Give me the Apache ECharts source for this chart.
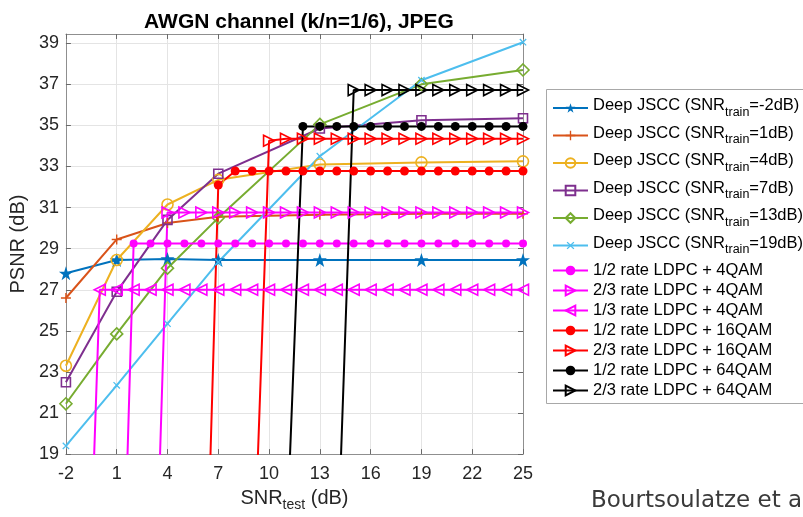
<!DOCTYPE html>
<html><head><meta charset="utf-8">
<script src="https://cdn.jsdelivr.net/npm/echarts@6/dist/echarts.min.js"></script>
<style>html,body{margin:0;padding:0;background:#fff}#c{width:803px;height:517px}</style>
</head><body><div id="c"></div>
<script>
// ---------- data ----------
const snrTicks  = [-2, 1, 4, 7, 10, 13, 16, 19, 22, 25];
const psnrTicks = [19, 21, 23, 25, 27, 29, 31, 33, 35, 37, 39];

const snrJscc = [-2, 1, 4, 7, 13, 19, 25];
const jsccTrainM2 = [27.8, 28.45, 28.5, 28.45, 28.45, 28.45, 28.45];
const jsccTrain1  = [26.6, 29.45, 30.25, 30.55, 30.65, 30.7, 30.7];
const jsccTrain4  = [23.3, 28.45, 31.15, 32.35, 33.1, 33.2, 33.25];
const jsccTrain7  = [22.5, 26.9, 30.4, 32.65, 34.85, 35.25, 35.35];
const jsccTrain13 = [21.45, 24.85, 28.05, 30.5, 35.05, 37.0, 37.7];
const jsccTrain19 = [19.4, 22.35, 25.35, 28.35, 33.5, 37.2, 39.05];

const snrGrid = [-2, -1, 0, 1, 2, 3, 4, 5, 6, 7, 8, 9, 10, 11, 12, 13, 14, 15, 16, 17, 18, 19, 20, 21, 22, 23, 24, 25];
const ldpcHalf4qam  = [null, null, null, 0.8, 29.25, 29.25, 29.25, 29.25, 29.25, 29.25, 29.25, 29.25, 29.25, 29.25, 29.25, 29.25, 29.25, 29.25, 29.25, 29.25, 29.25, 29.25, 29.25, 29.25, 29.25, 29.25, 29.25, 29.25];
const ldpcTwo3_4qam = [null, null, null, null, null, 4.0, 30.76, 30.76, 30.76, 30.76, 30.76, 30.76, 30.76, 30.76, 30.76, 30.76, 30.76, 30.76, 30.76, 30.76, 30.76, 30.76, 30.76, 30.76, 30.76, 30.76, 30.76, 30.76];
const ldpcOne3_4qam = [null, 2.8, 27.0, 27.0, 27.0, 27.0, 27.0, 27.0, 27.0, 27.0, 27.0, 27.0, 27.0, 27.0, 27.0, 27.0, 27.0, 27.0, 27.0, 27.0, 27.0, 27.0, 27.0, 27.0, 27.0, 27.0, 27.0, 27.0];
const ldpcHalf16qam = [null, null, null, null, null, null, null, null, 3.6, 32.1, 32.78, 32.78, 32.78, 32.78, 32.78, 32.78, 32.78, 32.78, 32.78, 32.78, 32.78, 32.78, 32.78, 32.78, 32.78, 32.78, 32.78, 32.78];
const ldpcTwo3_16qam = [null, null, null, null, null, null, null, null, null, null, null, 11.0, 34.25, 34.35, 34.35, 34.35, 34.35, 34.35, 34.35, 34.35, 34.35, 34.35, 34.35, 34.35, 34.35, 34.35, 34.35, 34.35];
const ldpcHalf64qam = [null, null, null, null, null, null, null, null, null, null, null, null, null, 14.0, 34.95, 34.95, 34.95, 34.95, 34.95, 34.95, 34.95, 34.95, 34.95, 34.95, 34.95, 34.95, 34.95, 34.95];
const ldpcTwo3_64qam = [null, null, null, null, null, null, null, null, null, null, null, null, null, null, null, null, 13.0, 36.72, 36.72, 36.72, 36.72, 36.72, 36.72, 36.72, 36.72, 36.72, 36.72, 36.72];

const jsccNames = [
  'Deep JSCC (SNR_train=-2dB)', 'Deep JSCC (SNR_train=1dB)', 'Deep JSCC (SNR_train=4dB)',
  'Deep JSCC (SNR_train=7dB)', 'Deep JSCC (SNR_train=13dB)', 'Deep JSCC (SNR_train=19dB)'
];
const ldpcNames = [
  '1/2 rate LDPC + 4QAM', '2/3 rate LDPC + 4QAM', '1/3 rate LDPC + 4QAM',
  '1/2 rate LDPC + 16QAM', '2/3 rate LDPC + 16QAM', '1/2 rate LDPC + 64QAM', '2/3 rate LDPC + 64QAM'
];

// ---------- styling ----------
const FONT = '"Liberation Sans", Arial, Helvetica, sans-serif';
const STAR = 'path://M50,0L61.8,35.1L98.9,35.1L68.8,56.8L80.3,91.9L50,70.2L19.7,91.9L31.2,56.8L1.1,35.1L38.2,35.1Z';
const PLUS = 'path://M43,0H57V43H100V57H57V100H43V57H0V43H43Z';
const TRI_R = 'path://M0,0L100,50L0,100Z';
const TRI_L = 'path://M100,0L0,50L100,100Z';
const CLEAR = 'rgba(255,255,255,0)';

function pairs(xs, ys) { return xs.map((x, i) => [x, ys[i]]); }

function line(name, data, color, symbol, size, open, rotate) {
  return {
    type: 'line', name: name, data: data,
    symbol: symbol, symbolSize: size, symbolRotate: rotate || 0,
    showAllSymbol: true, clip: true, connectNulls: false,
    lineStyle: { color: color, width: 2 },
    itemStyle: open ? { color: CLEAR, borderColor: color, borderWidth: 1.6 }
                    : { color: color, borderWidth: 0 },
    emphasis: { disabled: true },
    z: 2
  };
}

const series = [
  line(jsccNames[0], pairs(snrJscc, jsccTrainM2), '#0072BD', STAR, 14, false),
  line(jsccNames[1], pairs(snrJscc, jsccTrain1), '#D95319', PLUS, 10, false),
  line(jsccNames[2], pairs(snrJscc, jsccTrain4), '#EDB120', 'circle', 11, true),
  line(jsccNames[3], pairs(snrJscc, jsccTrain7), '#7E2F8E', 'rect', 9, true),
  line(jsccNames[4], pairs(snrJscc, jsccTrain13), '#77AC30', 'diamond', 12, true),
  line(jsccNames[5], pairs(snrJscc, jsccTrain19), '#4DBEEE', PLUS, 9, false, 45),
  line(ldpcNames[0], pairs(snrGrid, ldpcHalf4qam), '#FF00FF', 'circle', 8, false),
  line(ldpcNames[1], pairs(snrGrid, ldpcTwo3_4qam), '#FF00FF', TRI_R, 11, true),
  line(ldpcNames[2], pairs(snrGrid, ldpcOne3_4qam), '#FF00FF', TRI_L, 11, true),
  line(ldpcNames[3], pairs(snrGrid, ldpcHalf16qam), '#FF0000', 'circle', 9, false),
  line(ldpcNames[4], pairs(snrGrid, ldpcTwo3_16qam), '#FF0000', TRI_R, 11, true),
  line(ldpcNames[5], pairs(snrGrid, ldpcHalf64qam), '#000000', 'circle', 9, false),
  line(ldpcNames[6], pairs(snrGrid, ldpcTwo3_64qam), '#000000', TRI_R, 11, true)
];

const FRAME = '#8f8f8f';
const TICK = '#6a6a6a';
const GRIDC = '#e4e4e4';
const LABC = '#262626';

const option = {
  animation: false,
  backgroundColor: '#ffffff',
  title: {
    text: 'AWGN channel (k/n=1/6), JPEG',
    left: 294, top: 7, textAlign: 'center',
    textStyle: { fontFamily: FONT, fontSize: 21, fontWeight: 'bold', color: '#000' }
  },
  grid: { left: 64, top: 34, right: 280, bottom: 58, containLabel: false, show: false },
  xAxis: [
    {
      type: 'value', min: -2, max: 25, position: 'bottom',
      axisLine: { show: true, onZero: false, lineStyle: { color: FRAME, width: 1 } },
      axisTick: { show: true, inside: true, length: 5, customValues: snrTicks, lineStyle: { color: TICK } },
      axisLabel: { customValues: snrTicks, color: LABC, fontSize: 18, fontFamily: FONT, margin: 11 },
      splitLine: { show: true, lineStyle: { color: GRIDC, width: 1 } },
      name: '{n|SNR}{s|test}{n| (dB)}', nameLocation: 'middle', nameGap: 32,
      nameTextStyle: {
        fontFamily: FONT, color: LABC,
        rich: {
          n: { fontSize: 20, fontFamily: FONT, color: LABC, lineHeight: 24, verticalAlign: 'top' },
          s: { fontSize: 14, fontFamily: FONT, color: LABC, lineHeight: 10, verticalAlign: 'bottom' }
        }
      }
    },
    {
      type: 'value', min: -2, max: 25, position: 'top',
      axisLine: { show: true, onZero: false, lineStyle: { color: FRAME, width: 1 } },
      axisTick: { show: true, inside: true, length: 5, customValues: snrTicks, lineStyle: { color: TICK } },
      axisLabel: { show: false },
      splitLine: { show: false }
    }
  ],
  yAxis: [
    {
      type: 'value', min: 19, max: 39.45, position: 'left',
      axisLine: { show: true, onZero: false, lineStyle: { color: FRAME, width: 1 } },
      axisTick: { show: true, inside: true, length: 5, customValues: psnrTicks, lineStyle: { color: TICK } },
      axisLabel: { customValues: psnrTicks, color: LABC, fontSize: 18, fontFamily: FONT, margin: 7 },
      splitLine: { show: true, lineStyle: { color: GRIDC, width: 1 } },
      name: 'PSNR (dB)', nameLocation: 'middle', nameGap: 28,
      nameTextStyle: { fontFamily: FONT, fontSize: 20, color: LABC }
    },
    {
      type: 'value', min: 19, max: 39.45, position: 'right',
      axisLine: { show: true, onZero: false, lineStyle: { color: FRAME, width: 1 } },
      axisTick: { show: true, inside: true, length: 5, customValues: psnrTicks, lineStyle: { color: TICK } },
      axisLabel: { show: false },
      splitLine: { show: false }
    }
  ],
  legend: [
    {
      data: jsccNames, orient: 'vertical', left: 552, top: 97, padding: 0,
      itemGap: 5.5, itemWidth: 35, itemHeight: 12, selectedMode: false,
      formatter: function (name) {
        const parts = name.split('SNR_train');
        return '{n|' + parts[0] + 'SNR}{s|train}{n|' + parts[1] + '}';
      },
      textStyle: {
        fontFamily: FONT, color: '#000',
        rich: {
          n: { fontSize: 16.5, fontFamily: FONT, color: '#000', lineHeight: 22, verticalAlign: 'top' },
          s: { fontSize: 12.5, fontFamily: FONT, color: '#000', lineHeight: 9, verticalAlign: 'bottom' }
        }
      }
    },
    {
      data: ldpcNames, orient: 'vertical', left: 552, top: 262, padding: 0,
      itemGap: 3, itemWidth: 35, itemHeight: 12, selectedMode: false,
      textStyle: { fontFamily: FONT, fontSize: 16.5, color: '#000', lineHeight: 14.5 }
    }
  ],
  graphic: [
    {
      type: 'rect', left: 546, top: 89, z: 1, silent: true,
      shape: { width: 320, height: 314 },
      style: { fill: '#fff', stroke: '#a8a8a8', lineWidth: 1 }
    },
    {
      type: 'text', x: 591, y: 501, z: 1, silent: true,
      style: { text: 'Bourtsoulatze et al.', font: '23px "DejaVu Sans", sans-serif', fill: '#3a3a3a', verticalAlign: 'middle', align: 'left' }
    }
  ],
  series: series
};

const chart = echarts.init(document.getElementById('c'), null, { renderer: 'canvas' });
chart.setOption(option);
</script>
</body></html>
